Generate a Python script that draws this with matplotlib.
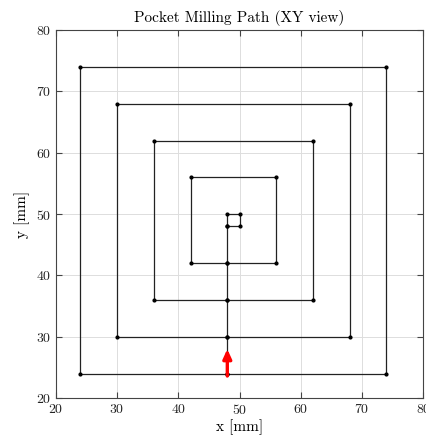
import matplotlib
matplotlib.use("Agg")
import matplotlib.pyplot as plt

plt.rcParams['font.family'] = ['cmr10', 'DejaVu Serif']
plt.rcParams['axes.formatter.use_mathtext'] = True

path_x = [48, 48, 50, 50, 48,
          48, 56, 56, 42, 42, 48,
          48, 62, 62, 36, 36, 48,
          48, 68, 68, 30, 30, 48,
          48, 74, 74, 24, 24, 48]
path_y = [48, 50, 50, 48, 48,
          42, 42, 56, 56, 42, 42,
          36, 36, 62, 62, 36, 36,
          30, 30, 68, 68, 30, 30,
          24, 24, 74, 74, 24, 24]
arrow_start = (48, 23.6)
arrow_end = (48, 28)
ticks = [20, 30, 40, 50, 60, 70, 80]

fig = plt.figure(figsize=(4.27, 4.37), dpi=100)
ax = fig.add_axes([0.131, 0.089, 0.860, 0.842])

ax.plot(path_x, path_y, color='#222222', lw=0.9, marker='.', markersize=4,
        markerfacecolor='black', markeredgecolor='black', zorder=2)
ax.annotate('', xy=arrow_end, xytext=arrow_start, zorder=5,
            arrowprops=dict(arrowstyle='-|>,head_width=0.25,head_length=0.55',
                            color='red', lw=2.4, shrinkA=0, shrinkB=0))

ax.set_xlim(20, 80)
ax.set_ylim(20, 80)
ax.set_xticks(ticks)
ax.set_yticks(ticks)
ax.grid(True, color='#dddddd', lw=0.7)
ax.set_axisbelow(True)
ax.tick_params(direction='in', top=True, right=True, labelsize=10, length=4,
               color='#444444', labelcolor='#222222')
for s in ax.spines.values():
    s.set_color('#444444')
    s.set_linewidth(0.8)
ax.set_xlabel('x [mm]', fontsize=11, labelpad=2)
ax.set_ylabel('y [mm]', fontsize=11, labelpad=4)
ax.set_title('Pocket Milling Path (XY view)', fontsize=11, pad=6)

fig.savefig('out.png', dpi=100)
